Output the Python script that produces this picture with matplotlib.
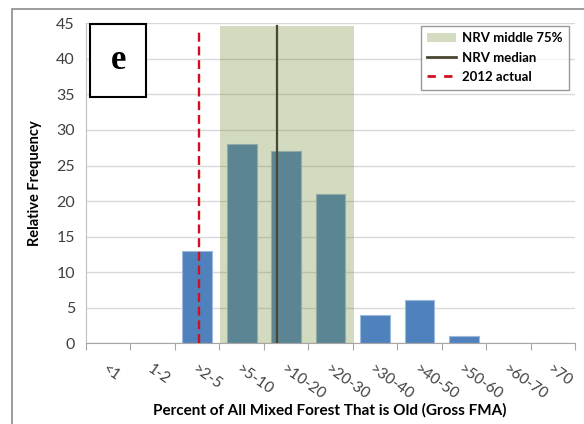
import numpy as np
import matplotlib.pyplot as plt
from matplotlib.patches import Rectangle, Patch
from matplotlib.lines import Line2D
from matplotlib import rcParams

rcParams.update({'font.family': 'sans-serif',
                 'font.sans-serif': ['Lato', 'DejaVu Sans']})

###############################################################################
# Data
###############################################################################
categories = ['<1', '1-2', '>2-5', '>5-10', '>10-20', '>20-30',
              '>30-40', '>40-50', '>50-60', '>60-70', '>70']
rel_freq = [0, 0, 13, 28, 27, 21, 4, 6, 1, 0, 0]

# NRV middle 75% band and median, in category units (bar centers at 0..10)
nrv_low = 2.51
nrv_high = 5.52
nrv_top = 44.7
nrv_median = 3.80
actual_2012 = 2.05

###############################################################################
# Figure
###############################################################################
fig = plt.figure(figsize=(5.84, 4.24), dpi=100)
ax = fig.add_axes([0.1473, 0.191, 0.8373, 0.7536])

x = np.arange(len(categories))
ax.bar(x, rel_freq, width=0.67, color='#4f81bd', edgecolor='#9fb9dc',
       linewidth=0.8, zorder=2)

band_color = '#77903c'
ax.add_patch(Rectangle((nrv_low, 0), nrv_high - nrv_low, nrv_top,
                       facecolor=band_color, alpha=0.324, edgecolor='none', zorder=3))
ax.plot([nrv_median, nrv_median], [0, nrv_top], color='#4b4532', linewidth=1.6, zorder=4)
ax.plot([actual_2012, actual_2012], [0, 44.2], color='#d01020', linewidth=1.7,
        dashes=(3.8, 2.0), zorder=5)

ax.set_xlim(-0.5, len(categories) - 0.5)
ax.set_ylim(0, 45)
ax.set_yticks(np.arange(0, 46, 5))
ax.yaxis.grid(True, color='#d9d9d9', linewidth=1)
ax.set_axisbelow(True)
ax.tick_params(axis='y', length=0, labelsize=11.5, colors='#404040', pad=8)

# major ticks at category boundaries, labels at centers
ax.set_xticks(np.arange(-0.5, len(categories) + 0.5, 1))
ax.set_xticklabels([])
ax.tick_params(axis='x', which='major', length=5, color='#a6a6a6', direction='out')
ax.set_xticks(x, minor=True)
ax.set_xticklabels(categories, minor=True, rotation=-35, ha='left', va='top',
                   rotation_mode='anchor', fontsize=11, color='#404040')
ax.tick_params(axis='x', which='minor', length=0, pad=14)

for side in ['top', 'right']:
    ax.spines[side].set_visible(False)
ax.spines['left'].set_color('#bfbfbf')
ax.spines['bottom'].set_color('#a6a6a6')

ax.set_ylabel('Relative Frequency', fontsize=10.5, fontweight='bold', labelpad=10)
fig.text(0.565, 0.033, 'Percent of All Mixed Forest That is Old (Gross FMA)',
         ha='center', va='center', fontsize=11, fontweight='bold')

# panel letter box
ax.text(0.066, 0.884, 'e', transform=ax.transAxes, ha='center', va='center',
        fontsize=25, fontweight='bold', family='Liberation Serif',
        bbox=dict(boxstyle='square,pad=0.58', facecolor='white',
                  edgecolor='black', linewidth=1.5), zorder=6)

handles = [Patch(facecolor='#d3dcc0', edgecolor='none'),
           Line2D([0], [0], color='#4b4532', linewidth=2),
           Line2D([0], [0], color='#d01020', linewidth=2, dashes=(3, 3))]
leg = ax.legend(handles, ['NRV middle 75%', 'NRV median', '2012 actual'],
                loc='upper right', bbox_to_anchor=(0.995, 1.005),
                prop={'size': 9.5, 'weight': 'bold'}, frameon=True, fancybox=False,
                edgecolor='#808080', handlelength=2.2, handletextpad=0.4,
                borderpad=0.5, labelspacing=0.55, borderaxespad=0.3)
leg.get_frame().set_linewidth(1)
leg.set_zorder(7)

# outer chart frame
fig.add_artist(Rectangle((12 / 584, -0.1), 1.2, 1 - 9 / 424 + 0.1,
                         transform=fig.transFigure, fill=False,
                         edgecolor='#8c8c8c', linewidth=1.2))

plt.savefig('out.png', dpi=100)
plt.close()
